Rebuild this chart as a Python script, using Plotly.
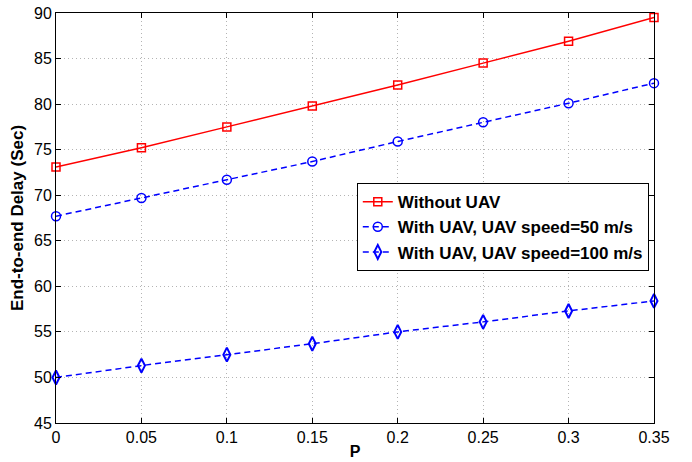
import plotly.graph_objects as go

p = [0, 0.05, 0.1, 0.15, 0.2, 0.25, 0.3, 0.35]
without_uav = [73.1, 75.2, 77.5, 79.8, 82.1, 84.5, 86.9, 89.5]
uav_50 = [67.7, 69.7, 71.7, 73.7, 75.9, 78.0, 80.1, 82.3]
uav_100 = [50.0, 51.3, 52.5, 53.7, 55.0, 56.1, 57.3, 58.4]
x_ticks = [0, 0.05, 0.1, 0.15, 0.2, 0.25, 0.3, 0.35]
x_labels = ["0", "0.05", "0.1", "0.15", "0.2", "0.25", "0.3", "0.35"]
y_ticks = [45, 50, 55, 60, 65, 70, 75, 80, 85, 90]

FONT = "Liberation Sans, Arial, Helvetica"
DASH = "6px,4px"

fig = go.Figure()
fig.add_trace(go.Scatter(x=p, y=without_uav, mode="lines+markers", name="<b>Without UAV</b>",
                         line=dict(color="#ff0000", width=1.5),
                         marker=dict(symbol="square-open", size=8, color="#ff0000", line=dict(width=1.5))))
fig.add_trace(go.Scatter(x=p, y=uav_50, mode="lines+markers", name="<b>With UAV, UAV speed=50 m/s</b>",
                         line=dict(color="#0000ff", width=1.5, dash=DASH),
                         marker=dict(symbol="circle-open", size=9, color="#0000ff", line=dict(width=1.5))))
fig.add_trace(go.Scatter(x=p, y=uav_100, mode="lines+markers", name="<b>With UAV, UAV speed=100 m/s</b>",
                         line=dict(color="#0000ff", width=1.5, dash=DASH),
                         marker=dict(symbol="diamond-tall-open", size=10, color="#0000ff", line=dict(width=2))))

axis_common = dict(showline=True, linecolor="black", linewidth=1, mirror="ticks",
                   ticks="inside", ticklen=5, tickcolor="black", automargin=False,
                   showgrid=True, gridcolor="#b4b4b4", griddash="1px,3px", gridwidth=1,
                   zeroline=False, tickfont=dict(family=FONT, size=16, color="black"))

fig.update_layout(
    width=692, height=462,
    margin=dict(l=56, r=38, t=13, b=39),
    paper_bgcolor="white", plot_bgcolor="white",
    xaxis=dict(range=[0, 0.35], tickvals=x_ticks, ticktext=x_labels,
               title=dict(text="<b>P</b>", font=dict(family=FONT, size=16, color="black"), standoff=0),
               **axis_common),
    yaxis=dict(range=[45, 90], tickvals=y_ticks,
               title=dict(text="<b>End-to-end Delay (Sec)</b>", font=dict(family=FONT, size=17, color="black"), standoff=6),
               **axis_common),
    legend=dict(x=0.503, y=0.585, xanchor="left", yanchor="top",
                bgcolor="white", bordercolor="black", borderwidth=1,
                font=dict(family=FONT, size=17, color="black"),
                tracegroupgap=0, itemwidth=30),
    showlegend=True,
)
fig.update_traces(cliponaxis=False)

fig.write_html("out.html", config={"displayModeBar": False},
               post_script="document.body.style.margin='0px';")
